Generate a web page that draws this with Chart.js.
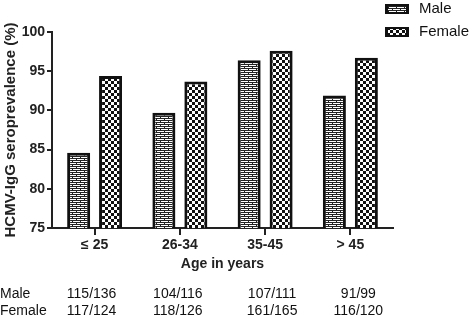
<!DOCTYPE html>
<html>
<head>
<meta charset="utf-8">
<script src="https://cdn.jsdelivr.net/npm/chart.js@4.4.1/dist/chart.umd.min.js"></script>
<style>
  html, body { margin: 0; padding: 0; background: #fff; }
  #wrap { width: 472px; height: 317px; }
</style>
</head>
<body>
<div id="wrap"><canvas id="grafico" width="472" height="317"></canvas></div>
<script>
// dados
const faixas = ["\u2264 25", "26-34", "35-45", "> 45"];
const masculino = [84.6, 89.7, 96.4, 91.9];
const feminino = [94.4, 93.7, 97.6, 96.7];
const nMasculino = ["115/136", "104/116", "107/111", "91/99"];
const nFeminino = ["117/124", "118/126", "161/165", "116/120"];
const yTicks = [75, 80, 85, 90, 95, 100];

const FONTE = "Liberation Sans, Arial, sans-serif";

// padrao tijolo (Male)
function padraoTijolo() {
    const c = document.createElement("canvas");
    c.width = 8; c.height = 4;
    const g = c.getContext("2d");
    g.fillStyle = "#fff";
    g.fillRect(0, 0, 8, 4);
    g.fillStyle = "#222";
    g.fillRect(0, 0, 8, 1);
    g.fillRect(0, 2, 8, 1);
    g.fillRect(0, 0, 1, 2);
    g.fillRect(4, 2, 1, 2);
    return g.createPattern(c, "repeat");
}

// padrao xadrez (Female)
function padraoXadrez() {
    const c = document.createElement("canvas");
    c.width = 6; c.height = 6;
    const g = c.getContext("2d");
    g.fillStyle = "#fff";
    g.fillRect(0, 0, 6, 6);
    g.fillStyle = "#111";
    g.fillRect(0, 0, 3, 3);
    g.fillRect(3, 3, 3, 3);
    return g.createPattern(c, "repeat");
}

const pTijolo = padraoTijolo();
const pXadrez = padraoXadrez();

// legenda e tabela de n abaixo do grafico
const extras = {
    id: "extras",
    afterDraw(chart) {
        const ctx = chart.ctx;
        const x = chart.scales.x;
        ctx.save();
        // legenda
        const itens = [
            { label: "Male", fill: pTijolo, y: 4 },
            { label: "Female", fill: pXadrez, y: 27 }
        ];
        itens.forEach(it => {
            ctx.fillStyle = "#111";
            ctx.fillRect(385, it.y, 24, 10);
            ctx.fillStyle = it.fill;
            ctx.fillRect(388, it.y + 2, 18, 6);
            ctx.fillStyle = "#111";
            ctx.font = "15px " + FONTE;
            ctx.textAlign = "left";
            ctx.textBaseline = "middle";
            ctx.fillText(it.label, 419, it.y + 5);
        });
        // tabela
        ctx.font = "14px " + FONTE;
        ctx.fillStyle = "#111";
        ctx.textBaseline = "middle";
        ctx.textAlign = "left";
        ctx.fillText("Male", 0, 294);
        ctx.fillText("Female", 0, 311);
        ctx.textAlign = "center";
        const desloc = [-3, -2, 7, 8];
        faixas.forEach((f, i) => {
            const cx = x.getPixelForValue(i) + desloc[i];
            ctx.fillText(nMasculino[i], cx, 294);
            ctx.fillText(nFeminino[i], cx, 311);
        });
        ctx.restore();
    }
};

const ctx = document.getElementById("grafico").getContext("2d");
new Chart(ctx, {
    type: "bar",
    data: {
        labels: faixas,
        datasets: [
            {
                label: "Male",
                data: masculino,
                backgroundColor: pTijolo,
                borderColor: "#111",
                borderWidth: 3,
                borderSkipped: false
            },
            {
                label: "Female",
                data: feminino,
                backgroundColor: pXadrez,
                borderColor: "#111",
                borderWidth: 3,
                borderSkipped: false
            }
        ]
    },
    options: {
        responsive: false,
        animation: false,
        categoryPercentage: 0.75,
        barPercentage: 0.72,
        layout: { padding: { top: 32, right: 79, left: 2, bottom: 0 } },
        plugins: {
            legend: { display: false },
            tooltip: { enabled: false }
        },
        scales: {
            y: {
                min: 75,
                max: 100,
                afterFit: s => { s.width = 50; },
                afterBuildTicks: s => { s.ticks = yTicks.map(v => ({ value: v })); },
                border: { color: "#222", width: 2 },
                grid: { drawOnChartArea: false, tickLength: 5, color: "#222", lineWidth: 2 },
                ticks: {
                    padding: 2,
                    color: "#222",
                    font: { family: FONTE, size: 14, weight: "bold" }
                },
                title: {
                    display: true,
                    text: "HCMV-IgG seroprevalence (%)",
                    color: "#222",
                    padding: { top: 0, bottom: 0 },
                    font: { family: FONTE, size: 15, weight: "bold" }
                }
            },
            x: {
                afterFit: s => { s.height = 89; },
                border: { color: "#222", width: 2 },
                grid: { drawOnChartArea: false, offset: false, tickLength: 7, color: "#222", lineWidth: 2 },
                ticks: {
                    padding: 2,
                    color: "#222",
                    font: { family: FONTE, size: 14, weight: "bold" }
                },
                title: {
                    display: true,
                    text: "Age in years",
                    color: "#222",
                    padding: { top: 0, bottom: 44 },
                    font: { family: FONTE, size: 14, weight: "bold" }
                }
            }
        }
    },
    plugins: [extras]
});
</script>
</body>
</html>
